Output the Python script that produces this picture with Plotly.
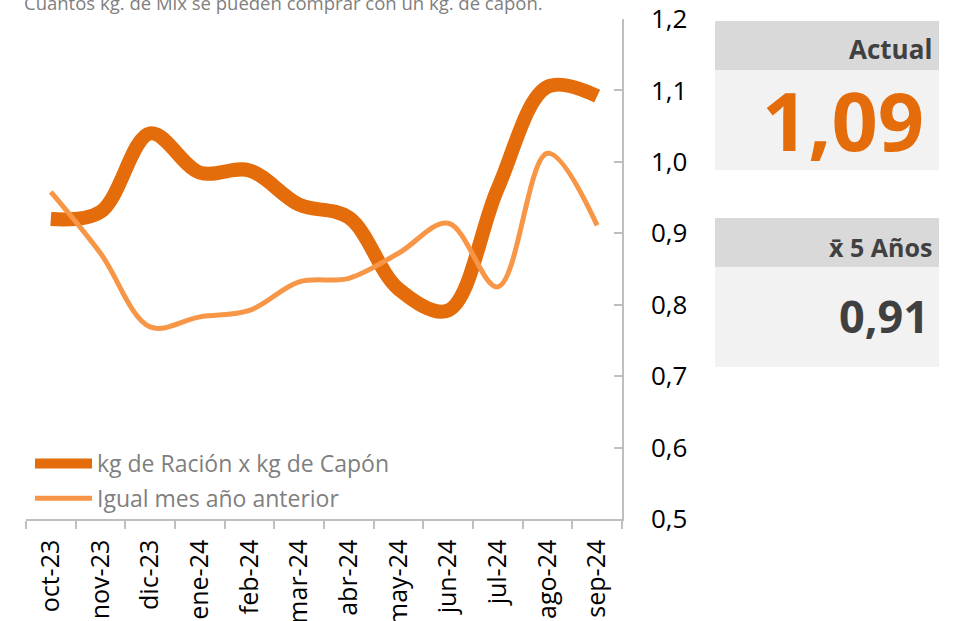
import plotly.graph_objects as go

# ---- data ----
months = ["oct-23", "nov-23", "dic-23", "ene-24", "feb-24", "mar-24",
          "abr-24", "may-24", "jun-24", "jul-24", "ago-24", "sep-24"]
racion_capon = [0.92, 0.93, 1.04, 0.985, 0.988, 0.94,
                0.922, 0.822, 0.792, 0.963, 1.105, 1.092]
igual_mes_anterior = [0.958, 0.872, 0.769, 0.783, 0.792, 0.832,
                      0.837, 0.872, 0.914, 0.825, 1.012, 0.911]
series_names = ["kg de Ración x kg de Capón", "Igual mes año anterior"]
y_ticks = [0.5, 0.6, 0.7, 0.8, 0.9, 1.0, 1.1, 1.2]
subtitle = "Cuantos kg. de Mix se pueden comprar con un kg. de capón."
actual_label, actual_value = "Actual", "1,09"
avg_label, avg_value = "x̄ 5 Años", "0,91"

# ---- geometry (page pixels) ----
W, H = 957, 621
PL, PR, PT, PB = 26, 622, 19, 519  # plot area


def px(x):
    return (x - PL) / (PR - PL)


def py(y):
    return (PB - y) / (PB - PT)


FONT = "Open Sans"
DARK_ORANGE = "#E46C0A"
LIGHT_ORANGE = "#F79646"
AXIS_GRAY = "#BFBFBF"

fig = go.Figure()
fig.add_trace(go.Scatter(
    x=months, y=racion_capon, name=series_names[0], mode="lines",
    legendgroup="a",
    line=dict(color=DARK_ORANGE, width=14, shape="spline", smoothing=1.0),
))
fig.add_trace(go.Scatter(
    x=months, y=igual_mes_anterior, name=series_names[1], mode="lines",
    legendgroup="b",
    line=dict(color=LIGHT_ORANGE, width=5, shape="spline", smoothing=1.0),
))

shapes = []
annotations = []

# right-hand info boxes
boxes = [
    (21, 70, "#D9D9D9"), (70, 170, "#F2F2F2"),
    (218, 267, "#D9D9D9"), (267, 367, "#F2F2F2"),
]
for y0, y1, col in boxes:
    shapes.append(dict(type="rect", xref="paper", yref="paper",
                       x0=px(715), x1=px(939), y0=py(y1), y1=py(y0),
                       fillcolor=col, line=dict(width=0), layer="below"))


def label(text, xr, ymid, size, color):
    return dict(text=text, x=px(xr), y=py(ymid), xref="paper", yref="paper",
                xanchor="right", yanchor="middle", showarrow=False,
                font=dict(family=FONT, size=size, color=color))


annotations += [
    label("<b>%s</b>" % actual_label, 934, 49, 26, "#404040"),
    label("<b>%s</b>" % actual_value, 926, 120, 81, DARK_ORANGE),
    label("<b>%s</b>" % avg_label, 934, 247, 25, "#404040"),
    label("<b>%s</b>" % avg_value, 931, 315, 45, "#404040"),
    dict(text=subtitle, x=px(22), y=py(3), xref="paper", yref="paper",
         xanchor="left", yanchor="middle", showarrow=False,
         font=dict(family=FONT, size=18.5, color="#808080")),
]

fig.update_layout(
    width=W, height=H,
    margin=dict(l=PL, r=W - PR, t=PT, b=H - PB, pad=0, autoexpand=False),
    paper_bgcolor="white", plot_bgcolor="white",
    separators=",.",
    font=dict(family=FONT, color="#000000"),
    shapes=shapes, annotations=annotations,
    showlegend=True,
    legend=dict(x=px(30), y=py(442), xanchor="left", yanchor="top",
                bgcolor="rgba(0,0,0,0)", font=dict(family=FONT, size=23, color="#7F7F7F"),
                tracegroupgap=2, itemwidth=57),
    xaxis=dict(
        type="category", range=[-0.5, len(months) - 0.5], automargin=False,
        showline=True, linecolor=AXIS_GRAY, linewidth=1.5,
        ticks="outside", tickson="boundaries", ticklen=8, tickcolor=AXIS_GRAY,
        tickwidth=1.5, tickangle=-90, showgrid=False, zeroline=False,
        tickfont=dict(family=FONT, size=25, color="#000000"),
        ticklabelstandoff=9, ticklabeloverflow="allow",
    ),
    yaxis=dict(
        side="right", automargin=False, range=[0.5, 1.2], tickvals=y_ticks, tickformat=".1f",
        showline=True, linecolor=AXIS_GRAY, linewidth=1.5,
        ticks="inside", ticklen=8, tickcolor=AXIS_GRAY, tickwidth=1.5,
        showgrid=False, zeroline=False,
        tickfont=dict(family=FONT, size=26, color="#000000"),
        ticklabelstandoff=22, ticklabeloverflow="allow",
    ),
)

# remove the browser's default 8px body margin so the figure sits at the page origin
fig.write_html("out.html", config={"displayModeBar": False},
               post_script="document.body.style.margin='0';")
